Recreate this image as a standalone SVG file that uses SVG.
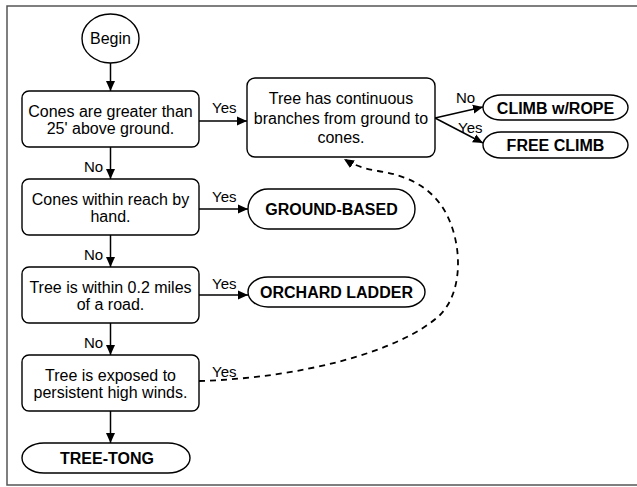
<svg xmlns="http://www.w3.org/2000/svg" width="637" height="487" viewBox="0 0 637 487">
<defs>
<style>
.box{fill:#fff;stroke:#000;stroke-width:1.4}
.t{font-family:"Liberation Sans",Arial,sans-serif;font-size:16px;fill:#000;text-anchor:middle}
.b{font-family:"Liberation Sans",Arial,sans-serif;font-size:16px;font-weight:bold;fill:#000;text-anchor:middle}
.l{font-family:"Liberation Sans",Arial,sans-serif;font-size:15px;fill:#000}
.c{fill:none;stroke:#000;stroke-width:1.5}
.d{fill:none;stroke:#000;stroke-width:1.8;stroke-dasharray:6,5}
</style>
<marker id="ah" markerUnits="userSpaceOnUse" markerWidth="10" markerHeight="10" viewBox="0 0 10 10" refX="10" refY="5" orient="auto">
<path d="M0,0.5 L10,5 L0,9.5 z" fill="#000"/>
</marker>
</defs>
<rect x="0" y="0" width="637" height="487" fill="#fff"/>
<path d="M640,6 H7 V485 H640" fill="none" stroke="#555" stroke-width="1.5"/>

<g id="connectors">
<line class="c" x1="110.5" y1="63" x2="110.5" y2="91" marker-end="url(#ah)"/>
<line class="c" x1="199" y1="121" x2="247" y2="121" marker-end="url(#ah)"/>
<line class="c" x1="110.5" y1="147" x2="110.5" y2="179" marker-end="url(#ah)"/>
<line class="c" x1="199" y1="209" x2="248" y2="209" marker-end="url(#ah)"/>
<line class="c" x1="110.5" y1="235" x2="110.5" y2="267" marker-end="url(#ah)"/>
<line class="c" x1="199" y1="295" x2="248" y2="295" marker-end="url(#ah)"/>
<line class="c" x1="110.5" y1="323" x2="110.5" y2="355" marker-end="url(#ah)"/>
<line class="c" x1="110.5" y1="411" x2="110.5" y2="443" marker-end="url(#ah)"/>
<line class="c" x1="435" y1="118" x2="483" y2="107" marker-end="url(#ah)"/>
<line class="c" x1="435" y1="118" x2="483" y2="143" marker-end="url(#ah)"/>
<path class="d" d="M199,381 C300,378 400,352 440,315 C465,290 462,238 443,208 C428,185 405,175 378,171 C364,169 352,164 344,159" marker-end="url(#ah)"/>
<text class="l" x="212" y="113">Yes</text>
<text class="l" x="84" y="172">No</text>
<text class="l" x="212" y="202">Yes</text>
<text class="l" x="84" y="260">No</text>
<text class="l" x="212" y="289">Yes</text>
<text class="l" x="84" y="348">No</text>
<text class="l" x="212" y="377">Yes</text>
<text class="l" x="84" y="408">No</text>
<text class="l" x="456" y="103">No</text>
<text class="l" x="458" y="133">Yes</text>
</g>

<g id="begin">
<ellipse class="box" cx="110.5" cy="38.5" rx="28.5" ry="24.5"/>
<text class="t" x="110.5" y="44">Begin</text>
</g>
<g id="q1">
<rect class="box" x="22" y="91" width="177" height="56" rx="7"/>
<text class="t" x="110.5" y="117">Cones are greater than</text>
<text class="t" x="110.5" y="134">25' above ground.</text>
</g>
<g id="q2">
<rect class="box" x="22" y="179" width="177" height="56" rx="7"/>
<text class="t" x="110.5" y="205">Cones within reach by</text>
<text class="t" x="110.5" y="222">hand.</text>
</g>
<g id="q3">
<rect class="box" x="22" y="267" width="177" height="56" rx="7"/>
<text class="t" x="110.5" y="293">Tree is within 0.2 miles</text>
<text class="t" x="110.5" y="310">of a road.</text>
</g>
<g id="q4">
<rect class="box" x="22" y="355" width="177" height="56" rx="7"/>
<text class="t" x="110.5" y="381">Tree is exposed to</text>
<text class="t" x="110.5" y="398">persistent high winds.</text>
</g>
<g id="tree">
<rect class="box" x="247" y="78" width="188" height="79" rx="8"/>
<text class="t" x="341" y="104">Tree has continuous</text>
<text class="t" x="341" y="123.5">branches from ground to</text>
<text class="t" x="341" y="143">cones.</text>
</g>
<g id="rope">
<rect class="box" x="483" y="95" width="145" height="25" rx="18" ry="12.5"/>
<text class="b" x="555.5" y="113.5">CLIMB w/ROPE</text>
</g>
<g id="free">
<rect class="box" x="483" y="132" width="145" height="26" rx="18" ry="13"/>
<text class="b" x="555.5" y="151">FREE CLIMB</text>
</g>
<g id="ground">
<rect class="box" x="248" y="189" width="167" height="40" rx="20" ry="20"/>
<text class="b" x="331.5" y="215">GROUND-BASED</text>
</g>
<g id="orchard">
<rect class="box" x="248" y="277" width="177" height="30" rx="20" ry="15"/>
<text class="b" x="336.5" y="298">ORCHARD LADDER</text>
</g>
<g id="tong">
<rect class="box" x="22" y="443" width="168" height="30" rx="22" ry="15"/>
<text class="b" x="107" y="464">TREE-TONG</text>
</g>
</svg>
